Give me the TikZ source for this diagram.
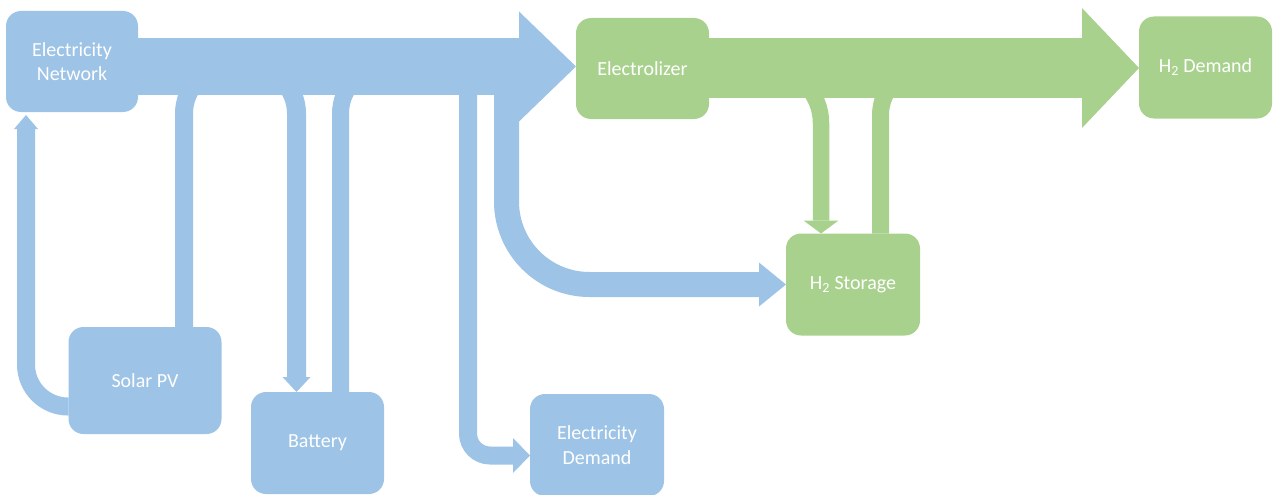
\documentclass[tikz,border=0pt]{standalone}
\usepackage{fontspec}
\setmainfont{Carlito}
\usetikzlibrary{arrows.meta}
\definecolor{eblue}{HTML}{9DC3E6}
\definecolor{hgreen}{HTML}{A9D18E}
\begin{document}
\begin{tikzpicture}[x=1pt,y=-1pt,
  box/.style={rounded corners=15pt, inner sep=0pt, outer sep=0pt, align=center, text=white,
    font=\fontsize{20}{24.5}\selectfont, minimum width=133pt, minimum height=102pt},
  bbox/.style={box, fill=eblue},
  gbox/.style={box, fill=hgreen},
  bflow/.style={draw=eblue},
  gflow/.style={draw=hgreen},
  tip/.style n args={2}{-{Triangle[length=#1pt,width=#2pt,line width=0pt]}}
]
\useasboundingbox (0,0) rectangle (1274,495);
% nodes
\node[bbox, minimum width=132pt, minimum height=101pt] (net) at (72,61.5) {Electricity\\Network};
\node[gbox, minimum height=101pt] (elz) at (642.5,68.5) {Electrolizer};
\node[gbox] (h2d) at (1205.5,67.5) {H\textsubscript{2} Demand};
\node[gbox, minimum width=134pt] (h2s) at (853,284.5) {H\textsubscript{2} Storage};
\node[bbox, minimum width=153pt, minimum height=107pt] (pv) at (145,380.5) {Solar PV};
\node[bbox] (bat) at (317.5,443) {Battery};
\node[bbox, minimum width=134pt] (ed) at (597,445) {Electricity\\Demand};
% shaft reference coordinates
\coordinate (bsh) at (0,66.5);
\coordinate (gsh) at (0,68);
\coordinate (sA) at (240,66.5);
\coordinate (sB) at (230,66.5);
\coordinate (sC) at (400,66.5);
\coordinate (sD) at (468,66.5);
\coordinate (sE) at (506.5,66.5);
\coordinate (gA) at (760,68);
\coordinate (gB) at (950,68);
% branch flows
\draw[bflow, line width=18pt, rounded corners=42pt, tip={14}{24}, shorten >=3pt]
  ([yshift=-26pt]pv.west) -| ([xshift=-46pt]net.south);
\draw[bflow, line width=18pt, rounded corners=47pt] ([xshift=39pt]pv.north) |- (sA);
\draw[bflow, line width=19pt, rounded corners=47pt, tip={15}{28}] (sB) -| ([xshift=-21pt]bat.north);
\draw[bflow, line width=17pt, rounded corners=47pt] ([xshift=23pt]bat.north) |- (sC);
\draw[bflow, line width=18pt, rounded corners=22pt, tip={17}{35}] (sD) |- ([yshift=-10.5pt]ed.west);
\draw[bflow, line width=25pt, rounded corners=83pt, tip={27}{44}] (sE) |- (h2s.west);
\draw[gflow, line width=16.5pt, rounded corners=55pt, tip={13}{35}] (gA) -| ([xshift=-32pt]h2s.north);
\draw[gflow, line width=17pt, rounded corners=47pt] ([xshift=27.5pt]h2s.north) |- (gB);
% main flows
\draw[bflow, line width=57pt, tip={57}{110}] (net.east |- bsh) -- (elz.west |- bsh);
\draw[gflow, line width=60pt, tip={57}{120}] (elz.east |- gsh) -- (h2d.west |- gsh);
\end{tikzpicture}
\end{document}
